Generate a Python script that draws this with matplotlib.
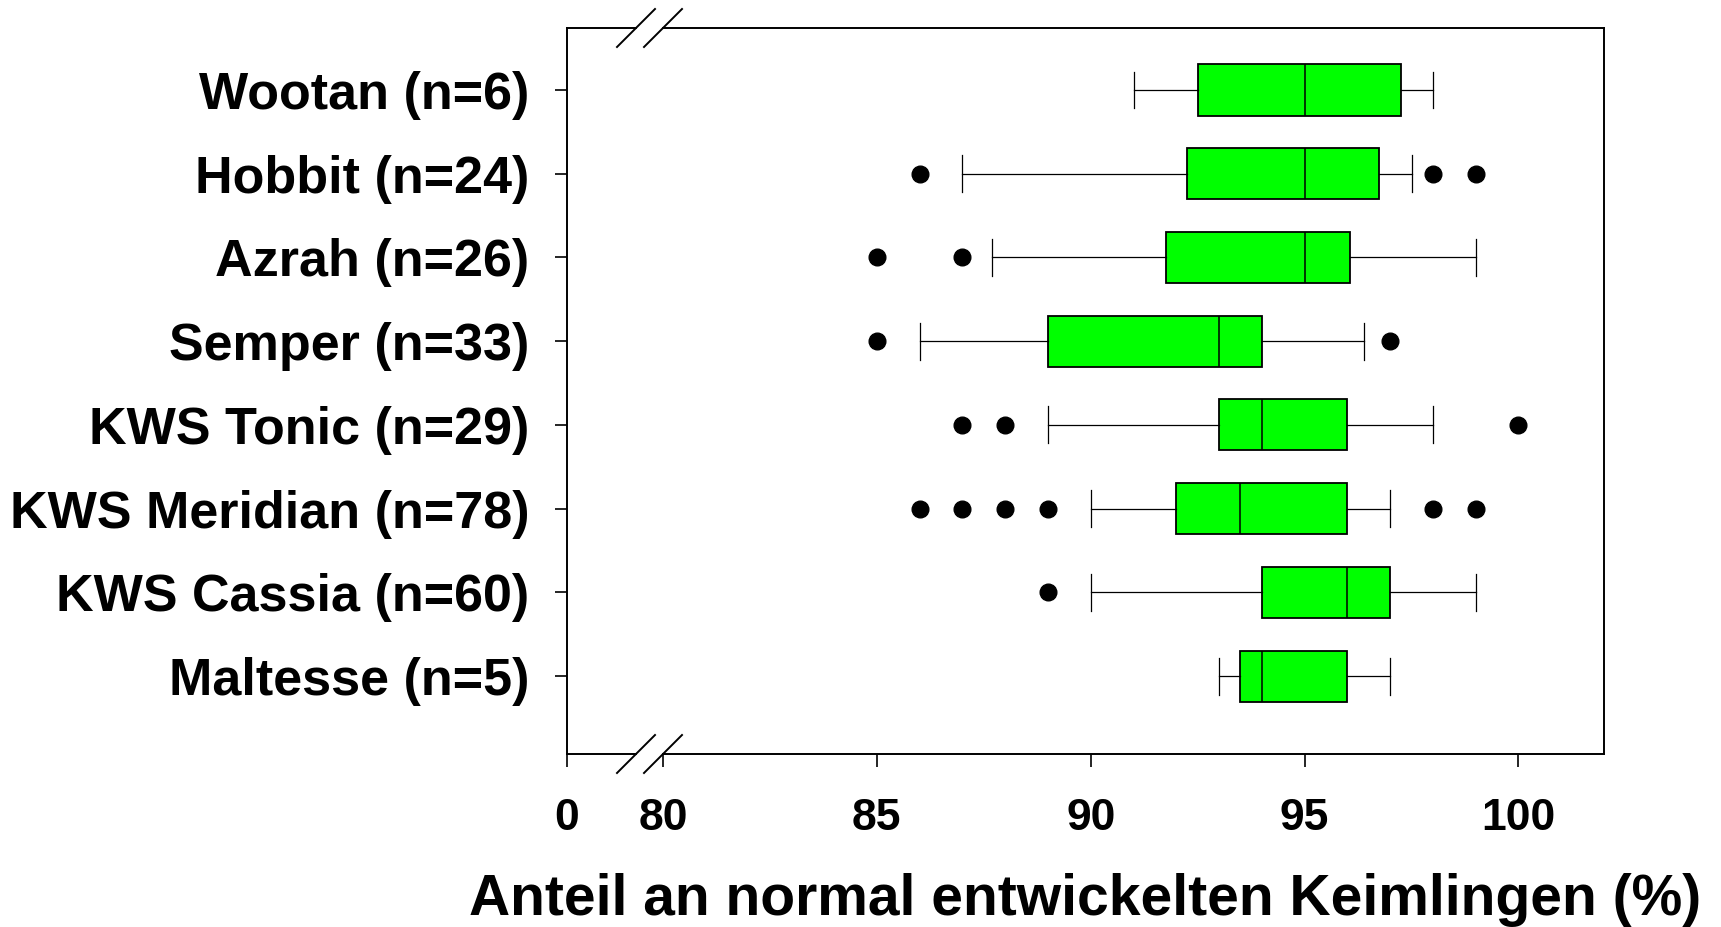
import matplotlib.pyplot as plt
from matplotlib.lines import Line2D

plt.rcParams['font.family'] = ['Liberation Sans', 'DejaVu Sans']
plt.rcParams['font.weight'] = 'bold'

# Sorten (von unten nach oben)
sorten = ["Maltesse (n=5)", "KWS Cassia (n=60)", "KWS Meridian (n=78)", "KWS Tonic (n=29)",
          "Semper (n=33)", "Azrah (n=26)", "Hobbit (n=24)", "Wootan (n=6)"]
whislo = [93.0, 90.0, 90.0, 89.0, 86.0, 87.7, 87.0, 91.0]
q1 = [93.5, 94.0, 92.0, 93.0, 89.0, 91.75, 92.25, 92.5]
med = [94.0, 96.0, 93.5, 94.0, 93.0, 95.0, 95.0, 95.0]
q3 = [96.0, 97.0, 96.0, 96.0, 94.0, 96.05, 96.75, 97.25]
whishi = [97.0, 99.0, 97.0, 98.0, 96.4, 99.0, 97.5, 98.0]
ausreisser = [[], [89], [86, 87, 88, 89, 98, 99], [87, 88, 100],
              [85, 97], [85, 87], [86, 98, 99], []]

x_ticks = [80, 85, 90, 95, 100]

W, H = 1721, 927
fig = plt.figure(figsize=(W / 100, H / 100), dpi=100)

# Achsenrahmen in Pixeln
x_left, x_b1, x_b2, x_right = 567, 636, 663, 1604
y_top, y_bot = 28, 754
b = 1 - y_bot / H
h = (y_bot - y_top) / H

ax0 = fig.add_axes([x_left / W, b, (x_b1 - x_left) / W, h])
ax = fig.add_axes([x_b2 / W, b, (x_right - x_b2) / W, h])

stats = []
for i in range(len(sorten)):
    stats.append(dict(med=med[i], q1=q1[i], q3=q3[i], whislo=whislo[i],
                      whishi=whishi[i], fliers=ausreisser[i]))

pos = list(range(1, len(sorten) + 1))
ax.bxp(stats, positions=pos, vert=False, widths=0.61, capwidths=0.44,
       patch_artist=True,
       boxprops=dict(facecolor='#00ff00', edgecolor='black', linewidth=1.3),
       medianprops=dict(color='black', linewidth=1.1),
       whiskerprops=dict(color='black', linewidth=0.9),
       capprops=dict(color='black', linewidth=0.9),
       flierprops=dict(marker='o', markerfacecolor='black', markeredgecolor='black',
                       markersize=12))

ylim = (0.07, 8.74)
for a in (ax0, ax):
    a.set_ylim(*ylim)
    for s in a.spines.values():
        s.set_linewidth(1.4)

ax.set_xlim(80, 102)
ax.set_xticks(x_ticks)
ax.set_xticklabels([str(t) for t in x_ticks])
ax.tick_params(axis='x', length=9, width=1.2, pad=23, labelsize=32)
ax.set_yticks([])
ax.spines['left'].set_visible(False)

ax0.set_xlim(0, 1)
ax0.set_xticks([0])
ax0.set_xticklabels(['0'])
ax0.tick_params(axis='x', length=9, width=1.2, pad=23, labelsize=32)
ax0.spines['right'].set_visible(False)
ax0.set_yticks(pos)
ax0.set_yticklabels(sorten)
ax0.tick_params(axis='y', length=9, width=1.2, pad=18, labelsize=37.5)

# Achsenbruch-Markierungen
d = 19
for xc in (x_b1, x_b2):
    for yc in (y_top, y_bot):
        fig.add_artist(Line2D([(xc - d) / W, (xc + d) / W],
                              [1 - (yc + d) / H, 1 - (yc - d) / H],
                              transform=fig.transFigure, color='black', linewidth=1.4))

fig.text((x_left + x_right) / 2 / W, 1 - 915 / H,
         'Anteil an normal entwickelten Keimlingen (%)',
         ha='center', va='baseline', fontsize=41, fontweight='bold')

fig.savefig('out.png', dpi=100)
